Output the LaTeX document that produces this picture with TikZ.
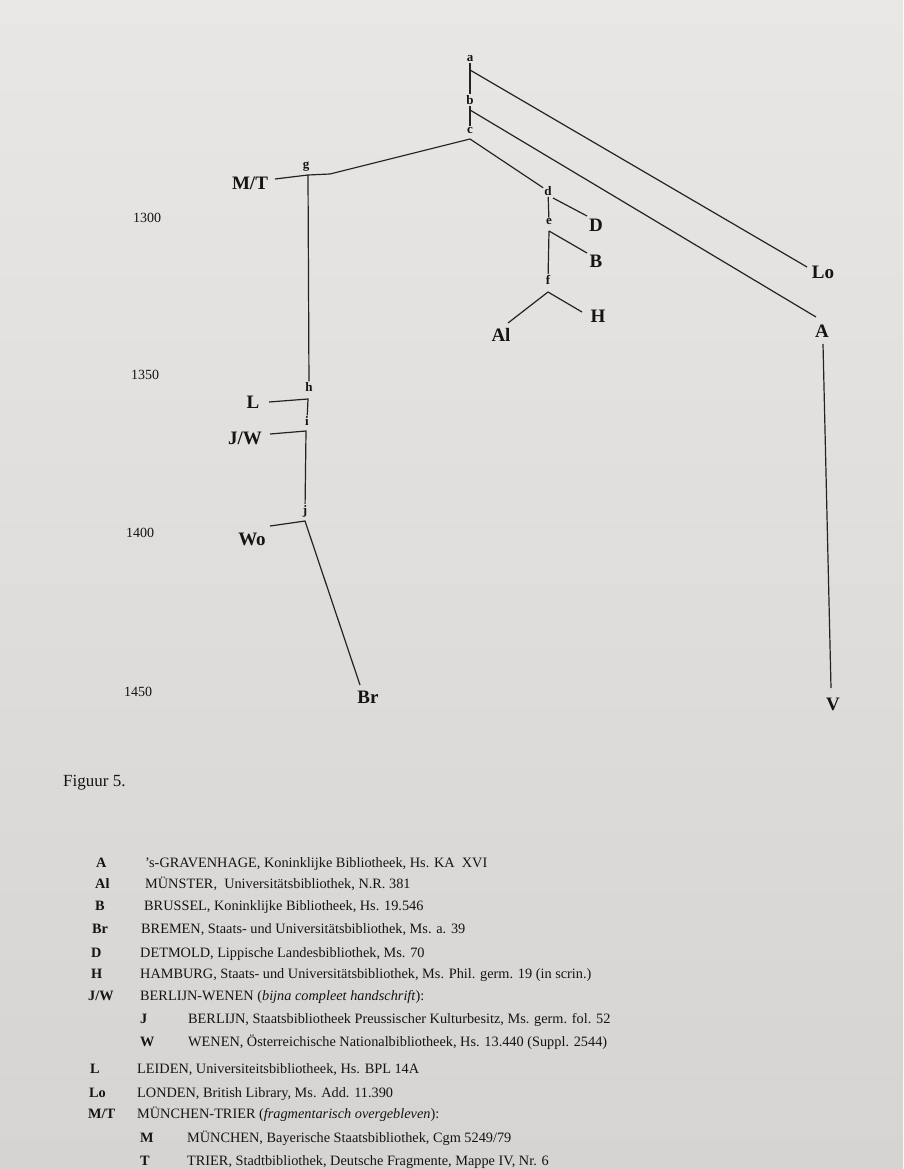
\documentclass[tikz,border=0pt]{standalone}
\usepackage{fontspec}
\setmainfont{Liberation Serif}
\definecolor{ink}{RGB}{20,20,20}
\definecolor{linec}{RGB}{35,35,35}
\definecolor{papertop}{RGB}{232,231,229}
\definecolor{paperbot}{RGB}{214,212,210}
\begin{document}
\begin{tikzpicture}[x=1pt,y=-1pt,
  conn/.style={draw=linec, line width=1.2pt},
  lab/.style={font=\fontsize{19}{19}\selectfont\bfseries, text=ink, inner sep=1pt},
  sm/.style={font=\fontsize{13}{13}\selectfont\bfseries, text=ink, inner sep=1pt},
  yr/.style={font=\fontsize{14}{14}\selectfont, text=ink, inner sep=0pt},
  leg/.style={font=\fontsize{14.3}{14.3}\selectfont, text=ink, anchor=base west, inner sep=0pt},
  legb/.style={font=\fontsize{14.3}{14.3}\selectfont\bfseries, text=ink, anchor=base west, inner sep=0pt}]
\useasboundingbox (0,0) rectangle (903,1169);
\shade[top color=papertop, bottom color=paperbot] (0,0) rectangle (903,1169);

% small junction labels
\node[sm] (a) at (470,59) {a};
\node[sm] (b) at (470,100) {b};
\node[sm] (c) at (470,130) {c};
\node[sm] (d) at (548,191) {d};
\node[sm] (e) at (549,222) {e};
\node[sm] (f) at (548,280) {f};
\node[sm] (g) at (306,167) {g};
\node[sm] (h) at (309,387) {h};
\node[sm] (i) at (307,421) {i};
\node[sm] (j) at (305,511) {j};

% manuscript labels
\node[lab] (MT) at (250,183) {M/T};
\node[lab] (D) at (596,225) {D};
\node[lab] (B) at (596,261) {B};
\node[lab] (H) at (598,316) {H};
\node[lab] (Al) at (501,335) {Al};
\node[lab] (Lo) at (823,272) {Lo};
\node[lab] (A) at (822,331) {A};
\node[lab] (V) at (833,704) {V};
\node[lab] (L) at (253,402) {L};
\node[lab] (JW) at (245,438) {J/W};
\node[lab] (Wo) at (252,539) {Wo};
\node[lab] (Br) at (368,697) {Br};

% junction and end coordinates
\coordinate (ja) at (470,70);
\coordinate (jb) at (470,110);
\coordinate (jc) at (470,139);
\coordinate (jd) at (553,198);
\coordinate (je) at (549,231);
\coordinate (jf) at (548,292);
\coordinate (jg) at (308,175);
\coordinate (kg) at (330,174);
\coordinate (jh) at (308,399);
\coordinate (ji) at (306,431);
\coordinate (jj) at (305,521);
\coordinate (eLo) at (807,267);
\coordinate (eA) at (816,317);
\coordinate (eD) at (587,216);
\coordinate (eB) at (587,253);
\coordinate (eH) at (582,312);
\coordinate (eAl) at (508,323);
\coordinate (sMT) at (275,179);
\coordinate (sL) at (269,402);
\coordinate (sJW) at (270,434);
\coordinate (sWo) at (270,526);
\coordinate (eBr) at (360,685);
\coordinate (sV) at (823,344);
\coordinate (eV) at (831,688);

% connectors
\draw[conn] (a) -- (b);
\draw[conn] (b) -- (c);
\draw[conn] (ja) -- (eLo);
\draw[conn] (jb) -- (eA);
\draw[conn] (jc) -- (d);
\draw[conn] (jc) -- (kg) -- (jg) -- (sMT);
\draw[conn] (jg) -- (h);
\draw[conn] (d) -- (e);
\draw[conn] (jd) -- (eD);
\draw[conn] (je) -- (eB);
\draw[conn] (je) -- (f);
\draw[conn] (jf) -- (eAl);
\draw[conn] (jf) -- (eH);
\draw[conn] (sL) -- (jh) -- (i);
\draw[conn] (sJW) -- (ji) -- (j);
\draw[conn] (sWo) -- (jj) -- (eBr);
\draw[conn] (sV) -- (eV);

% years
\node[yr] (y1300) at (147,218) {1300};
\node[yr] (y1350) at (145,375) {1350};
\node[yr] (y1400) at (140,533) {1400};
\node[yr] (y1450) at (138,692) {1450};

\node[font=\fontsize{17}{17}\selectfont, text=ink, anchor=base west, inner sep=0pt] (fig) at (63,786) {Figuur 5.};

% legend
\node[legb] (kA) at (96,867) {A};
\node[leg] (tA) at (145,867) {’s-GRAVENHAGE, Koninklijke Bibliotheek, Hs. KA\ \ XVI};
\node[legb] (kAl) at (95,888) {Al};
\node[leg] (tAl) at (145,888) {MÜNSTER,\ \ Universitätsbibliothek, N.R. 381};
\node[legb] (kB) at (95,910) {B};
\node[leg] (tB) at (144,910) {BRUSSEL, Koninklijke Bibliotheek, Hs. 19.546};
\node[legb] (kBr) at (92,933) {Br};
\node[leg] (tBr) at (141,933) {BREMEN, Staats- und Universitätsbibliothek, Ms. a. 39};
\node[legb] (kD) at (91,957) {D};
\node[leg] (tD) at (140,957) {DETMOLD, Lippische Landesbibliothek, Ms. 70};
\node[legb] (kH) at (91,978) {H};
\node[leg] (tH) at (140,978) {HAMBURG, Staats- und Universitätsbibliothek, Ms. Phil. germ. 19 (in scrin.)};
\node[legb] (kJW) at (88,1000) {J/W};
\node[leg] (tJW) at (140,1000) {BERLIJN-WENEN (\textit{bijna compleet handschrift}):};
\node[legb] (kJ) at (140,1023) {J};
\node[leg] (tJ) at (188,1023) {BERLIJN, Staatsbibliotheek Preussischer Kulturbesitz, Ms. germ. fol. 52};
\node[legb] (kW) at (140,1046) {W};
\node[leg] (tW) at (188,1046) {WENEN, Österreichische Nationalbibliotheek, Hs. 13.440 (Suppl. 2544)};
\node[legb] (kL) at (90,1073) {L};
\node[leg] (tL) at (137,1073) {LEIDEN, Universiteitsbibliotheek, Hs. BPL 14A};
\node[legb] (kLo) at (89,1097) {Lo};
\node[leg] (tLo) at (137,1097) {LONDEN, British Library, Ms. Add. 11.390};
\node[legb] (kMT) at (88,1118) {M/T};
\node[leg] (tMT) at (137,1118) {MÜNCHEN-TRIER (\textit{fragmentarisch overgebleven}):};
\node[legb] (kM) at (140,1142) {M};
\node[leg] (tM) at (187,1142) {MÜNCHEN, Bayerische Staatsbibliothek, Cgm 5249/79};
\node[legb] (kT) at (140,1165) {T};
\node[leg] (tT) at (187,1165) {TRIER, Stadtbibliothek, Deutsche Fragmente, Mappe IV, Nr. 6};
\end{tikzpicture}
\end{document}
